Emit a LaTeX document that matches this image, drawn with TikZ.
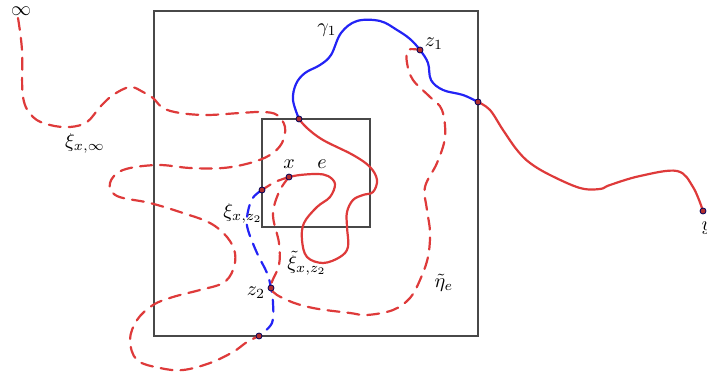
\documentclass[tikz,border=0pt]{standalone}
\usetikzlibrary{calc}
\usepackage{amsmath}
\definecolor{pathred}{RGB}{222,58,58}
\definecolor{pathblue}{RGB}{35,35,245}
\definecolor{boxgray}{RGB}{72,72,72}

\begin{document}
\begin{tikzpicture}[x=0.5pt,y=-0.5pt,line width=1.1pt]
\tikzset{boxline/.style={draw=boxgray,line width=1pt},
  redpath/.style={pathred,line width=1.1pt,line cap=round},
  bluepath/.style={pathblue,line width=1.1pt,line cap=round},
  dashpath/.style={dash pattern=on 6pt off 4pt},
  marker/.style={circle,fill=pathred!80!black,draw=blue!35!black,line width=0.4pt,inner sep=0pt,minimum size=3pt}}
\useasboundingbox (0,0) rectangle (707,379);
% ---------- the two boxes ----------
\draw[boxline] (154,11) rectangle (478,336);
\draw[boxline] (262,119) rectangle (370,227);
% ---------- marked points ----------
\coordinate (inftop) at (18,18);
\coordinate (ptop) at (299,119);
\coordinate (pright) at (478,102);
\coordinate (zone) at (420,50);
\coordinate (px) at (289,177);
\coordinate (pleft) at (262,190);
\coordinate (ztwo) at (271,288);
\coordinate (pbot) at (259,336);
\coordinate (py) at (703,211);
% ---------- gamma_1 (blue) and its red continuations ----------
\draw[bluepath] plot[smooth,tension=0.6] coordinates {(ptop) (293,100) (296,84) (305,73) (320,65) (331,55) (341,33) (357,21) (380,21) (397,30) (410,39) (zone) (428,63) (431,80) (443,90) (463,95) (pright)};
\draw[redpath] plot[smooth,tension=0.6] coordinates {(pright) (490,110) (503,130) (517,150) (530,163) (550,175) (580,188) (600,189) (610,185) (640,176) (677,171) (693,187) (py)};
\draw[redpath] plot[smooth,tension=0.6] coordinates {(ptop) (307,128) (323,140) (353,155) (370,167) (377,180) (373,192) (363,195) (353,200) (347,212) (347,227) (348,247) (340,257) (323,263) (307,257) (302,240) (304,223) (317,207) (330,197) (335,184) (328,176) (317,174) (300,175) (px)};
% ---------- xi_{x,infty}: dashed, red then blue then red ----------
\draw[redpath,dashpath] plot[smooth,tension=0.6] coordinates {(inftop) (22,50) (23,97) (33,117) (50,125) (70,127) (87,122) (100,107) (113,95) (130,87) (143,92) (153,98) (163,108) (180,113) (207,115) (240,113) (263,112) (277,115) (285,127) (282,143) (270,155) (250,163) (223,168) (190,168) (157,165) (123,170) (110,183) (117,196) (150,203) (183,213) (210,223) (227,237) (235,253) (233,270) (223,283) (200,290) (173,297) (153,305) (137,320) (130,340) (137,360) (160,368) (183,370) (210,363) (233,352) (247,342) (pbot)};
\draw[bluepath,dashpath] plot[smooth,tension=0.6] coordinates {(pleft) (252,199) (247,217) (248,230) (257,253) (267,273) (ztwo) (273,303) (272,323) (pbot)};
\draw[redpath,dashpath] plot[smooth] coordinates {(px) (275,182) (pleft)};
% ---------- tilde xi and tilde eta_e ----------
\draw[redpath,dashpath] plot[smooth,tension=0.6] coordinates {(px) (279,192) (273,215) (279,243) (279,265) (ztwo) (287,300) (313,308) (350,313) (367,315) (393,310) (410,298) (420,280) (428,257) (430,232) (427,210) (425,187) (437,163) (445,137) (442,110) (430,97) (413,80) (407,63) (408,50) (zone)};
% ---------- dots ----------
\foreach \p in {ptop,pright,zone,px,pleft,ztwo,pbot,py}
  \node[marker] at (\p) {};
% ---------- labels ----------
\node (linf) at (21,11) {$\infty$};
\node (lxiinf) at (85,143) {$\xi_{x,\infty}$};
\node (lgamma) at (327,30) {$\gamma_1$};
\node (lzone) at (434,44) {$z_1$};
\node (lx) at (289,164) {$x$};
\node (le) at (322,164) {$e$};
\node (lxiz) at (243,213) {$\xi_{x,z_2}$};
\node (ltxi) at (307,263) {$\tilde\xi_{x,z_2}$};
\node (lztwo) at (256,293) {$z_2$};
\node (leta) at (444,283) {$\tilde\eta_e$};
\node (ly) at (707,228) {$y$};
\end{tikzpicture}
\end{document}
